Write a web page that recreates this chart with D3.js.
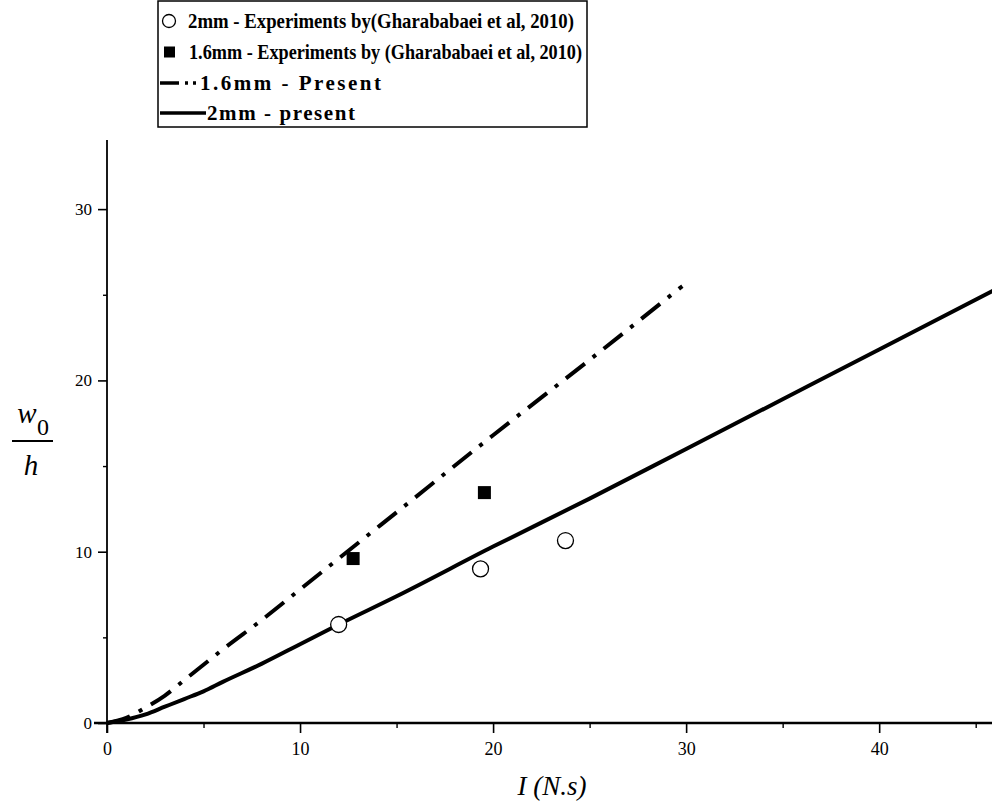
<!DOCTYPE html>
<html>
<head>
<meta charset="utf-8">
<script src="https://cdn.jsdelivr.net/npm/d3@7/dist/d3.min.js"></script>
<style>
  html, body { margin: 0; padding: 0; background: #fff; }
  svg { display: block; }
  text { font-family: "Liberation Serif", "Times New Roman", serif; }
</style>
</head>
<body>
<div id="chart"></div>
<script>
// data
let present2mmX = [0, 1, 2, 3, 4, 5, 6, 8, 10, 12, 15, 20, 25, 30, 35, 40, 46];
let present2mmY = [0, 0.2, 0.5, 0.95, 1.4, 1.85, 2.4, 3.45, 4.6, 5.75, 7.4, 10.3, 13.1, 16.0, 18.9, 21.8, 25.3];
let present16X = [0, 1, 2, 3, 4, 5, 6, 8, 10, 12, 15, 20, 25, 29.8];
let present16Y = [0, 0.3, 0.9, 1.6, 2.5, 3.4, 4.3, 6.0, 7.8, 9.6, 12.3, 16.8, 21.2, 25.5];
let exp2mmX = [12.0, 19.35, 23.75];
let exp2mmY = [5.75, 9.0, 10.65];
let exp16X = [12.75, 19.55];
let exp16Y = [9.6, 13.45];
let xMajor = [0, 10, 20, 30, 40];
let xMinor = [5, 15, 25, 35, 45];
let yMajor = [0, 10, 20, 30];
let yMinor = [5, 15, 25];
let legendLabels = [
    "2mm - Experiments by(Gharababaei et al, 2010)",
    "1.6mm - Experiments by (Gharababaei et al, 2010)",
    "1.6mm - Present",
    "2mm - present"
];

let W = 992, H = 801;
let x = d3.scaleLinear().domain([0, 46]).range([107, 995]);
let y = d3.scaleLinear().domain([0, 34]).range([723, 140.6]);

let svg = d3.select("#chart").append("svg")
    .attr("width", W)
    .attr("height", H);

let zip = (xs, ys) => xs.map((v, i) => [v, ys[i]]);

// axes
let xAxis = svg.append("g")
    .attr("transform", "translate(0," + y(0) + ")")
    .call(d3.axisBottom(x).tickValues(xMajor).tickSize(10).tickSizeOuter(0).tickFormat(d3.format("d")));
xAxis.select(".domain").remove();
xAxis.selectAll(".tick line").attr("stroke-width", 1.6);
xAxis.selectAll(".tick text").attr("font-size", 18).attr("dy", "1.05em");

svg.append("g")
    .attr("transform", "translate(0," + y(0) + ")")
    .call(d3.axisBottom(x).tickValues(xMinor).tickSize(5).tickFormat(""))
    .call(g => g.select(".domain").remove())
    .selectAll(".tick line").attr("stroke-width", 1.4);

svg.append("line")
    .attr("x1", 94).attr("x2", W)
    .attr("y1", y(0)).attr("y2", y(0))
    .attr("stroke", "#000").attr("stroke-width", 2.6);

let yAxis = svg.append("g")
    .attr("transform", "translate(" + x(0) + ",0)")
    .call(d3.axisLeft(y).tickValues(yMajor).tickSize(9).tickSizeOuter(0).tickFormat(d3.format("d")));
yAxis.select(".domain").remove();
yAxis.selectAll(".tick line").attr("stroke-width", 1.6);
yAxis.selectAll(".tick text").attr("font-size", 17).attr("x", -15);

svg.append("g")
    .attr("transform", "translate(" + x(0) + ",0)")
    .call(d3.axisLeft(y).tickValues(yMinor).tickSize(4).tickFormat(""))
    .call(g => g.select(".domain").remove())
    .selectAll(".tick line").attr("stroke-width", 1.4);

svg.append("line")
    .attr("x1", x(0)).attr("x2", x(0))
    .attr("y1", 140).attr("y2", 733)
    .attr("stroke", "#000").attr("stroke-width", 1.8);

// lines
let line = d3.line()
    .x(d => x(d[0]))
    .y(d => y(d[1]))
    .curve(d3.curveMonotoneX);

svg.append("path")
    .datum(zip(present16X, present16Y))
    .attr("d", line)
    .attr("fill", "none")
    .attr("stroke", "#000")
    .attr("stroke-width", 4)
    .attr("stroke-dasharray", "24 10 4 10");

svg.append("path")
    .datum(zip(present2mmX, present2mmY))
    .attr("d", line)
    .attr("fill", "none")
    .attr("stroke", "#000")
    .attr("stroke-width", 4);

// experiment markers
svg.selectAll(".exp16")
    .data(zip(exp16X, exp16Y))
    .enter().append("rect")
    .attr("class", "exp16")
    .attr("x", d => x(d[0]) - 6.5)
    .attr("y", d => y(d[1]) - 6.5)
    .attr("width", 13).attr("height", 13)
    .attr("fill", "#000");

svg.selectAll(".exp2")
    .data(zip(exp2mmX, exp2mmY))
    .enter().append("circle")
    .attr("class", "exp2")
    .attr("cx", d => x(d[0]))
    .attr("cy", d => y(d[1]))
    .attr("r", 8)
    .attr("fill", "#fff")
    .attr("stroke", "#000")
    .attr("stroke-width", 1.3);

// axis titles
svg.append("text")
    .attr("x", 552).attr("y", 795)
    .attr("text-anchor", "middle")
    .attr("font-size", 27)
    .attr("font-style", "italic")
    .text("I (N.s)");

let yl = svg.append("g");
yl.append("text").attr("x", 27).attr("y", 423).attr("text-anchor", "middle")
    .attr("font-size", 29).attr("font-style", "italic").text("w");
yl.append("text").attr("x", 43).attr("y", 435).attr("text-anchor", "middle")
    .attr("font-size", 24).text("0");
yl.append("line").attr("x1", 12).attr("x2", 53).attr("y1", 441).attr("y2", 441)
    .attr("stroke", "#000").attr("stroke-width", 2);
yl.append("text").attr("x", 31).attr("y", 475).attr("text-anchor", "middle")
    .attr("font-size", 29).attr("font-style", "italic").text("h");

// legend
let lg = svg.append("g");
lg.append("rect")
    .attr("x", 158).attr("y", 1)
    .attr("width", 429).attr("height", 126)
    .attr("fill", "#fff")
    .attr("stroke", "#000")
    .attr("stroke-width", 1.5);

let rowY = [21, 52, 83, 113];
let textX = [188, 189, 200, 207];
let textW = [386, 393, 181, 148];

lg.append("circle").attr("cx", 169).attr("cy", rowY[0]).attr("r", 6.5)
    .attr("fill", "#fff").attr("stroke", "#000").attr("stroke-width", 1.3);
lg.append("rect").attr("x", 164).attr("y", rowY[1] - 5.5).attr("width", 11).attr("height", 11)
    .attr("fill", "#000");
lg.append("line").attr("x1", 160).attr("x2", 200).attr("y1", rowY[2]).attr("y2", rowY[2])
    .attr("stroke", "#000").attr("stroke-width", 3.5).attr("stroke-dasharray", "19 6 3 5 3 20");
lg.append("line").attr("x1", 160).attr("x2", 206).attr("y1", rowY[3]).attr("y2", rowY[3])
    .attr("stroke", "#000").attr("stroke-width", 3.5);

lg.selectAll(".lt")
    .data(legendLabels)
    .enter().append("text")
    .attr("class", "lt")
    .attr("x", (d, i) => textX[i])
    .attr("y", (d, i) => rowY[i] + 7)
    .attr("font-size", 21)
    .attr("font-weight", "bold")
    .attr("textLength", (d, i) => textW[i])
    .attr("lengthAdjust", (d, i) => i < 2 ? "spacingAndGlyphs" : "spacing")
    .text(d => d);
</script>
</body>
</html>
